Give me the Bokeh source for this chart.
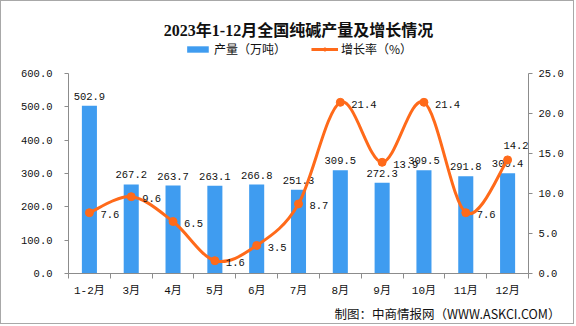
from bokeh.plotting import figure
from bokeh.models import (Range1d, LinearAxis, FixedTicker, ColumnDataSource, Legend,
                          LegendItem, Title, NumeralTickFormatter)
from bokeh.core.properties import value
from bokeh.embed import file_html
from bokeh.resources import INLINE

months = ["1-2月", "3月", "4月", "5月", "6月", "7月", "8月", "9月", "10月", "11月", "12月"]
output = [502.9, 267.2, 263.7, 263.1, 266.8, 251.3, 309.5, 272.3, 309.5, 291.8, 300.4]
growth = [7.6, 9.6, 6.5, 1.6, 3.5, 8.7, 21.4, 13.9, 21.4, 7.6, 14.2]
left_ticks = [0, 100, 200, 300, 400, 500, 600]
right_ticks = [0, 5, 10, 15, 20, 25]

BLUE = "#3F9CF0"
ORANGE = "#FF6A1A"
MONO = "'Liberation Mono', 'Noto Sans CJK SC'"
CJK = "'Liberation Serif', 'Noto Sans CJK SC'"

n = len(months)
xs = list(range(n))

# frame spans y=40..273 on the canvas; the axes (0..600 / 0..25) occupy 73..273
FRAME_TOP, FRAME_BOTTOM, AXIS_TOP = 40, 273, 73
stretch = (FRAME_BOTTOM - FRAME_TOP) / (FRAME_BOTTOM - AXIS_TOP)
lmax, rmax = left_ticks[-1], right_ticks[-1]

p = figure(width=574, height=324, x_range=Range1d(-0.5, n - 0.5),
           y_range=Range1d(0, lmax * stretch),
           output_backend="svg", toolbar_location=None,
           min_border_left=67, min_border_right=47, min_border_top=FRAME_TOP - 1,
           min_border_bottom=326 - 1 - FRAME_BOTTOM)
p.styles = {"border": "1px solid #a8a8a8"}
p.extra_y_ranges = {"right": Range1d(0, rmax * stretch)}
p.outline_line_color = None
p.xgrid.visible = False
p.ygrid.visible = False
p.background_fill_color = "white"
p.border_fill_color = "white"

# Title
p.title.text = "2023年1-12月全国纯碱产量及增长情况"
p.title.align = "center"
p.title.text_font = CJK
p.title.text_font_size = "16px"
p.title.text_font_style = "bold"
p.title.text_color = "#111111"
p.title.standoff = 4

# Bars
src = ColumnDataSource(dict(x=xs, y=output, lab=[f"{v:.1f}" for v in output]))
bars = p.vbar(x="x", top="y", width=0.36, source=src, fill_color=BLUE, line_color=None)
p.text(x="x", y="y", text="lab", source=src, text_align="center", text_baseline="bottom",
       y_offset=-6, text_font=value("Liberation Mono"), text_font_size="10.5px", text_color="#111111")

# Smooth growth line via bezier segments (Catmull-Rom style control points)
k = 1.0 / 6.0
x0, y0, x1, y1, cx0, cy0, cx1, cy1 = [], [], [], [], [], [], [], []
for i in range(n - 1):
    pm = i - 1 if i > 0 else i
    pp = i + 2 if i + 2 < n else i + 1
    x0.append(xs[i]); y0.append(growth[i])
    x1.append(xs[i + 1]); y1.append(growth[i + 1])
    cx0.append(xs[i] + (xs[i + 1] - xs[pm]) * k)
    cy0.append(growth[i] + (growth[i + 1] - growth[pm]) * k)
    cx1.append(xs[i + 1] - (xs[pp] - xs[i]) * k)
    cy1.append(growth[i + 1] - (growth[pp] - growth[i]) * k)
curve = p.bezier(x0=x0, y0=y0, x1=x1, y1=y1, cx0=cx0, cy0=cy0, cx1=cx1, cy1=cy1,
                 line_color=ORANGE, line_width=3, y_range_name="right")
gsrc = ColumnDataSource(dict(x=xs, y=growth))
dots = p.scatter(x="x", y="y", source=gsrc, size=8, fill_color=ORANGE, line_color=ORANGE,
                 y_range_name="right")

gsrc_a = ColumnDataSource(dict(x=xs[:-1], y=growth[:-1], lab=[f"{v:.1f}" for v in growth[:-1]]))
gsrc_b = ColumnDataSource(dict(x=xs[-1:], y=growth[-1:], lab=[f"{v:.1f}" for v in growth[-1:]]))
p.text(x="x", y="y", text="lab", source=gsrc_a, x_offset=11, y_offset=2, text_align="left",
       text_baseline="middle", text_font=value("Liberation Mono"), text_font_size="10.5px",
       text_color="#111111", y_range_name="right")
p.text(x="x", y="y", text="lab", source=gsrc_b, x_offset=21, y_offset=-14, text_align="right",
       text_baseline="middle", text_font=value("Liberation Mono"), text_font_size="10.5px",
       text_color="#111111", y_range_name="right")

# Axes
xa = p.xaxis[0]
xa.ticker = FixedTicker(ticks=xs, minor_ticks=[i - 0.5 for i in range(n + 1)])
xa.major_label_overrides = {i: m for i, m in enumerate(months)}
xa.major_tick_out = 0
xa.major_tick_in = 0
xa.minor_tick_out = 5
xa.minor_tick_in = 0
xa.axis_line_color = "#8c8c8c"
xa.minor_tick_line_color = "#8c8c8c"
xa.major_label_text_font = MONO
xa.major_label_text_font_size = "11px"
xa.major_label_text_color = "#111111"
xa.major_label_standoff = 6

ya = p.yaxis[0]
ya.ticker = FixedTicker(ticks=left_ticks)
ya.bounds = (0, lmax)
ya.formatter = NumeralTickFormatter(format="0.0")
ya.axis_line_color = "#8c8c8c"
ya.major_tick_line_color = "#8c8c8c"
ya.major_tick_out = 4
ya.major_tick_in = 0
ya.minor_tick_line_color = None
ya.major_label_text_font = MONO
ya.major_label_text_font_size = "10.5px"
ya.major_label_text_color = "#111111"
ya.major_label_standoff = 12

ra = LinearAxis(y_range_name="right", ticker=FixedTicker(ticks=right_ticks),
                formatter=NumeralTickFormatter(format="0.0"), bounds=(0, rmax))
ra.axis_line_color = "#8c8c8c"
ra.major_tick_line_color = "#8c8c8c"
ra.major_tick_out = 4
ra.major_tick_in = 0
ra.minor_tick_line_color = None
ra.major_label_text_font = MONO
ra.major_label_text_font_size = "10.5px"
ra.major_label_text_color = "#111111"
ra.major_label_standoff = 6
p.add_layout(ra, "right")

# Legend at the top of the frame
legend = Legend(items=[LegendItem(label="产量（万吨）", renderers=[bars]),
                       LegendItem(label="增长率（%）", renderers=[curve, dots])],
                orientation="horizontal", location="top_center",
                label_text_font="Noto Sans CJK SC", label_text_font_size="12px",
                label_text_color="#111111", glyph_width=27, glyph_height=8,
                label_standoff=3, spacing=25, border_line_color=None,
                background_fill_alpha=0, padding=2, margin=0)
p.add_layout(legend, "center")

# Source note
src_title = Title(text="制图：中商情报网（WWW.ASKCI.COM）", align="right",
                  text_font="Noto Sans CJK SC", text_font_size="12.5px",
                  text_font_style="normal", text_color="#111111", standoff=4, offset=-32)
p.add_layout(src_title, "below")

open("out.html", "w").write(file_html(p, INLINE))
